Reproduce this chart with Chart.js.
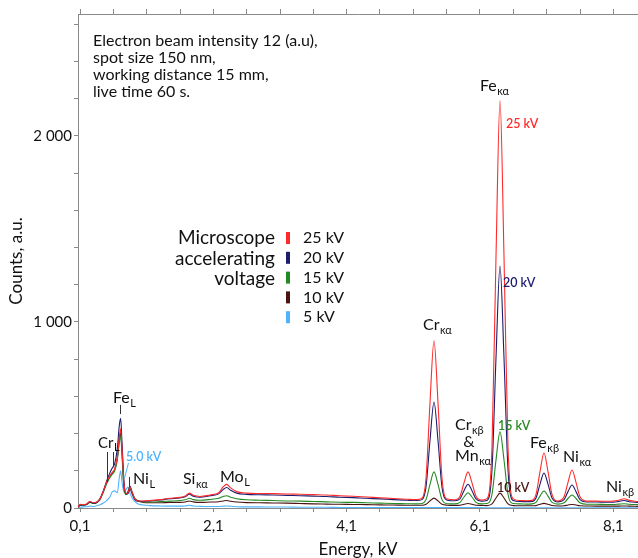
<!DOCTYPE html>
<html>
<head>
<meta charset="utf-8">
<script src="https://cdn.jsdelivr.net/npm/chart.js@4.4.1/dist/chart.umd.min.js"></script>
<style>
  html, body { margin: 0; padding: 0; background: #fff; }
  #wrap { width: 638px; height: 558px; }
</style>
</head>
<body>
<div id="wrap"><canvas id="chart" width="638" height="558"></canvas></div>
<script>
// energy grid, keV (denser around the lines)
const energies = [
  0.07, 0.10, 0.15, 0.20, 0.25, 0.30, 0.35, 0.40, 0.45, 0.50,
  0.55, 0.58, 0.62, 0.66, 0.69, 0.71, 0.73, 0.76, 0.79, 0.82,
  0.85, 0.88, 0.92, 0.97, 1.05, 1.15, 1.30, 1.45, 1.60, 1.68,
  1.74, 1.80, 1.90, 2.05, 2.18, 2.25, 2.30, 2.36, 2.45, 2.60,
  2.80, 3.00, 3.20, 3.40, 3.60, 3.80, 4.00, 4.20, 4.40, 4.60,
  4.80, 5.00, 5.15, 5.23, 5.29, 5.35, 5.41, 5.47, 5.53, 5.61,
  5.72, 5.80, 5.86, 5.92, 5.98, 6.04, 6.12, 6.20, 6.28, 6.34,
  6.40, 6.46, 6.52, 6.60, 6.70, 6.80, 6.88, 6.94, 7.00, 7.06,
  7.12, 7.18, 7.27, 7.36, 7.42, 7.48, 7.54, 7.60, 7.70, 7.85,
  8.00, 8.10, 8.18, 8.26, 8.34, 8.47
];

const counts25kV = [
  4, 20, 18, 22, 35, 28, 32, 50, 90, 140,
  175, 190, 210, 275, 380, 425, 320, 130, 78, 82,
  110, 85, 50, 38, 38, 40, 45, 52, 57, 65,
  80, 68, 62, 70, 82, 115, 127, 108, 88, 80,
  78, 77, 75, 74, 72, 70, 66, 63, 59, 55,
  51, 47, 45, 53, 160, 566, 899, 566, 160, 48,
  44, 63, 135, 194, 135, 63, 43, 49, 330, 1352,
  2190, 1352, 330, 49, 40, 39, 41, 73, 195, 296,
  195, 73, 38, 60, 138, 204, 138, 60, 37, 37,
  36, 37, 42, 50, 41, 35
];

const counts20kV = [
  4, 16, 16, 20, 33, 26, 30, 50, 92, 145,
  190, 212, 238, 320, 445, 482, 350, 140, 75, 78,
  102, 78, 46, 36, 36, 38, 43, 50, 54, 60,
  74, 63, 58, 66, 76, 100, 110, 95, 80, 73,
  71, 70, 68, 66, 64, 62, 58, 56, 52, 49,
  45, 42, 40, 45, 112, 363, 570, 363, 112, 42,
  39, 49, 93, 128, 93, 49, 37, 40, 206, 807,
  1300, 807, 206, 40, 35, 34, 35, 54, 128, 188,
  128, 54, 33, 45, 88, 124, 88, 45, 32, 32,
  31, 31, 35, 40, 34, 30
];

const counts15kV = [
  3, 14, 15, 18, 30, 24, 28, 45, 85, 130,
  165, 180, 200, 260, 355, 385, 285, 105, 72, 82,
  106, 80, 48, 36, 32, 32, 34, 37, 40, 44,
  52, 45, 42, 46, 52, 62, 66, 58, 50, 44,
  42, 40, 38, 37, 35, 33, 31, 30, 28, 26,
  24, 23, 22, 24, 45, 127, 194, 127, 45, 23,
  22, 30, 59, 82, 59, 30, 22, 24, 74, 258,
  409, 258, 74, 24, 22, 21, 22, 30, 64, 91,
  64, 30, 21, 28, 51, 70, 51, 28, 20, 20,
  19, 19, 21, 23, 20, 18
];

const counts10kV = [
  3, 16, 16, 20, 32, 26, 30, 48, 88, 135,
  170, 185, 205, 268, 370, 405, 300, 112, 76, 88,
  116, 88, 52, 40, 30, 28, 28, 30, 30, 32,
  38, 33, 30, 32, 34, 38, 40, 36, 32, 29,
  28, 27, 26, 24, 22, 21, 20, 19, 18, 17,
  16, 15, 15, 15, 20, 38, 53, 38, 20, 15,
  14, 15, 20, 24, 20, 15, 14, 13, 22, 54,
  80, 54, 22, 13, 12, 12, 12, 13, 20, 25,
  20, 13, 11, 12, 16, 19, 16, 12, 11, 10,
  10, 10, 10, 11, 10, 9
];

const counts5kV = [
  2, 4, 6, 7, 10, 8, 12, 18, 27, 40,
  60, 85, 92, 82, 165, 200, 140, 85, 100, 112,
  80, 55, 35, 22, 16, 13, 11, 10, 10, 11,
  15, 11, 9, 8, 8, 10, 11, 9, 7, 6,
  6, 5, 5, 4, 4, 4, 3, 3, 3, 2,
  2, 2, 2, 2, 2, 2, 2, 2, 2, 2,
  2, 2, 2, 2, 2, 2, 2, 1, 1, 1,
  1, 1, 1, 1, 1, 1, 1, 1, 1, 1,
  1, 1, 1, 1, 1, 1, 1, 1, 1, 1,
  1, 1, 1, 1, 1, 1
];

const seriesLabels = ['25 kV', '20 kV', '15 kV', '10 kV', '5 kV'];
const seriesValues = [counts25kV, counts20kV, counts15kV, counts10kV, counts5kV];
const seriesColors = ['#ff2b2b', '#1c1c6e', '#238a23', '#4a1212', '#4fb4ff'];

const xTickValues = [0.1, 0.6, 1.1, 1.6, 2.1, 2.6, 3.1, 3.6, 4.1, 4.6, 5.1, 5.6, 6.1, 6.6, 7.1, 7.6, 8.1];
const xTickLabels = ['0,1', '', '', '', '2,1', '', '', '', '4,1', '', '', '', '6,1', '', '', '', '8,1'];
const yTickValues = [0, 200, 400, 600, 800, 1000, 1200, 1400, 1600, 1800, 2000, 2200, 2400, 2600];
const yTickLabels = ['0', '', '', '', '', '1 000', '', '', '', '', '2 000', '', '', ''];

// line labels, anchored in keV / counts
const peakLabels = [
  { main: 'Fe', sub: 'L', e: 0.595, c: 591 },
  { main: 'Cr', sub: 'L', e: 0.37, c: 349, size: 15 },
  { main: 'Ni', sub: 'L', e: 0.895, c: 156 },
  { main: 'Si', sub: 'κα', e: 1.645, c: 156 },
  { main: 'Mo', sub: 'L', e: 2.20, c: 167 },
  { main: 'Cr', sub: 'κα', e: 5.245, c: 984 },
  { main: 'Cr', sub: 'κβ', e: 5.725, c: 446 },
  { main: '&', sub: '', e: 5.85, c: 355 },
  { main: 'Mn', sub: 'κα', e: 5.725, c: 279 },
  { main: 'Fe', sub: 'κα', e: 6.10, c: 2268 },
  { main: 'Fe', sub: 'κβ', e: 6.85, c: 349 },
  { main: 'Ni', sub: 'κα', e: 7.345, c: 274 },
  { main: 'Ni', sub: 'κβ', e: 7.99, c: 113 }
];

const voltageLabels = [
  { text: '25 kV', e: 6.49, c: 2064, color: seriesColors[0] },
  { text: '20 kV', e: 6.445, c: 1209, color: seriesColors[1] },
  { text: '15 kV', e: 6.37, c: 441, color: seriesColors[2] },
  { text: '10 kV', e: 6.355, c: 107, color: seriesColors[3] },
  { text: '5.0 kV', e: 0.79, c: 274, color: seriesColors[4] }
];

const markerLines = [
  { e0: 0.70, c0: 505, e1: 0.70, c1: 554, color: '#333' },
  { e0: 0.505, c0: 140, e1: 0.505, c1: 301, color: '#333' },
  { e0: 0.595, c0: 220, e1: 0.595, c1: 301, color: '#333' },
  { e0: 0.835, c0: 113, e1: 0.835, c1: 167, color: '#333' },
  { e0: 0.82, c0: 242, e1: 0.76, c1: 161, color: seriesColors[4] }
];

const noteLines = [
  'Electron beam intensity 12 (a.u),',
  'spot size 150 nm,',
  'working distance 15 mm,',
  'live time 60 s.'
];
const legendTitle = ['Microscope', 'accelerating', 'voltage'];

const FONT = 'Lato, "Open Sans", sans-serif';
const INK = '#111';
const AXIS = '#8a8a8a';

const drawLabel = (ctx, main, sub, px, py, size, color) => {
  ctx.fillStyle = color;
  ctx.textAlign = 'left';
  ctx.textBaseline = 'middle';
  ctx.font = `${size}px ${FONT}`;
  ctx.fillText(main, px, py);

  if (! sub) {
    return;
  }

  const w = ctx.measureText(main).width;
  ctx.font = `${Math.round(size * 0.7)}px ${FONT}`;
  ctx.fillText(sub, px + w + 0.5, py + size * 0.32);
};

const annotate = {
  id: 'annotate',
  afterDraw(chart) {
    const { ctx, chartArea, scales: { x, y } } = chart;
    ctx.save();

    markerLines.forEach((m) => {
      ctx.strokeStyle = m.color;
      ctx.lineWidth = 1;
      ctx.beginPath();
      ctx.moveTo(Math.round(x.getPixelForValue(m.e0)) + 0.5, y.getPixelForValue(m.c0));
      ctx.lineTo(Math.round(x.getPixelForValue(m.e1)) + 0.5, y.getPixelForValue(m.c1));
      ctx.stroke();
    });

    peakLabels.forEach((p) => {
      drawLabel(ctx, p.main, p.sub, x.getPixelForValue(p.e), y.getPixelForValue(p.c), p.size || 16, INK);
    });

    voltageLabels.forEach((v) => {
      ctx.fillStyle = v.color;
      ctx.textAlign = 'left';
      ctx.textBaseline = 'middle';
      ctx.font = `600 12.5px ${FONT}`;
      ctx.fillText(v.text, x.getPixelForValue(v.e), y.getPixelForValue(v.c));
    });

    // conditions note, top left
    ctx.fillStyle = INK;
    ctx.font = `16px ${FONT}`;
    ctx.textAlign = 'left';
    noteLines.forEach((line, i) => {
      ctx.fillText(line, chartArea.left + 15, chartArea.top + 27 + i * 17);
    });

    // legend
    const lx = chartArea.left + 197;
    const ly = chartArea.top + 224;
    ctx.textAlign = 'right';
    ctx.font = `19px ${FONT}`;
    legendTitle.forEach((line, i) => {
      ctx.fillText(line, lx, ly + i * 20.5);
    });

    ctx.textAlign = 'left';
    ctx.font = `16px ${FONT}`;
    seriesLabels.forEach((label, i) => {
      const iy = ly + i * 19.8;
      ctx.fillStyle = seriesColors[i];
      ctx.fillRect(lx + 11, iy - 6, 4, 12);
      ctx.fillStyle = INK;
      ctx.fillText(label, lx + 28, iy);
    });

    ctx.restore();
  }
};

new Chart(document.getElementById('chart'), {
  type: 'line',
  data: {
    datasets: seriesLabels.map((label, i) => ({
      label,
      data: energies.map((e, j) => ({ x: e, y: seriesValues[i][j] })),
      borderColor: seriesColors[i],
      borderWidth: 1.1,
      pointRadius: 0,
      cubicInterpolationMode: 'monotone',
      xAxisID: 'x',
      yAxisID: 'y'
    }))
  },
  options: {
    responsive: false,
    animation: false,
    devicePixelRatio: 1,
    layout: { padding: 0 },
    plugins: {
      legend: { display: false },
      tooltip: { enabled: false }
    },
    scales: {
      x: {
        type: 'linear',
        position: 'bottom',
        min: 0.07,
        max: 8.47,
        afterBuildTicks: (scale) => {
          scale.ticks = xTickValues.map((v) => ({ value: v }));
        },
        afterFit: (scale) => {
          scale.height = 50;
        },
        ticks: {
          autoSkip: false,
          maxRotation: 0,
          padding: 5,
          color: INK,
          font: { family: FONT, size: 15 },
          callback: (value, index) => xTickLabels[index]
        },
        grid: { drawOnChartArea: false, tickLength: 4, color: AXIS },
        border: { color: AXIS },
        title: {
          display: true,
          text: 'Energy, kV',
          color: INK,
          padding: 0,
          font: { family: FONT, size: 17, lineHeight: 1 }
        }
      },
      x2: {
        type: 'linear',
        position: 'top',
        min: 0.07,
        max: 8.47,
        afterBuildTicks: (scale) => {
          scale.ticks = xTickValues.map((v) => ({ value: v }));
        },
        afterFit: (scale) => {
          scale.height = 14;
        },
        ticks: { display: false },
        grid: { drawOnChartArea: false, tickLength: 5, color: AXIS },
        border: { color: AXIS }
      },
      y: {
        type: 'linear',
        min: 0,
        max: 2655,
        afterBuildTicks: (scale) => {
          scale.ticks = yTickValues.map((v) => ({ value: v }));
        },
        afterFit: (scale) => {
          scale.width = 78;
        },
        ticks: {
          padding: 2,
          color: INK,
          font: { family: FONT, size: 15 },
          callback: (value, index) => yTickLabels[index]
        },
        grid: { drawOnChartArea: false, tickLength: 4, color: AXIS },
        border: { color: AXIS },
        title: {
          display: true,
          text: 'Counts, a.u.',
          color: INK,
          padding: { top: 8 },
          font: { family: FONT, size: 17, lineHeight: 1 }
        }
      }
    }
  },
  plugins: [annotate]
});
</script>
</body>
</html>
